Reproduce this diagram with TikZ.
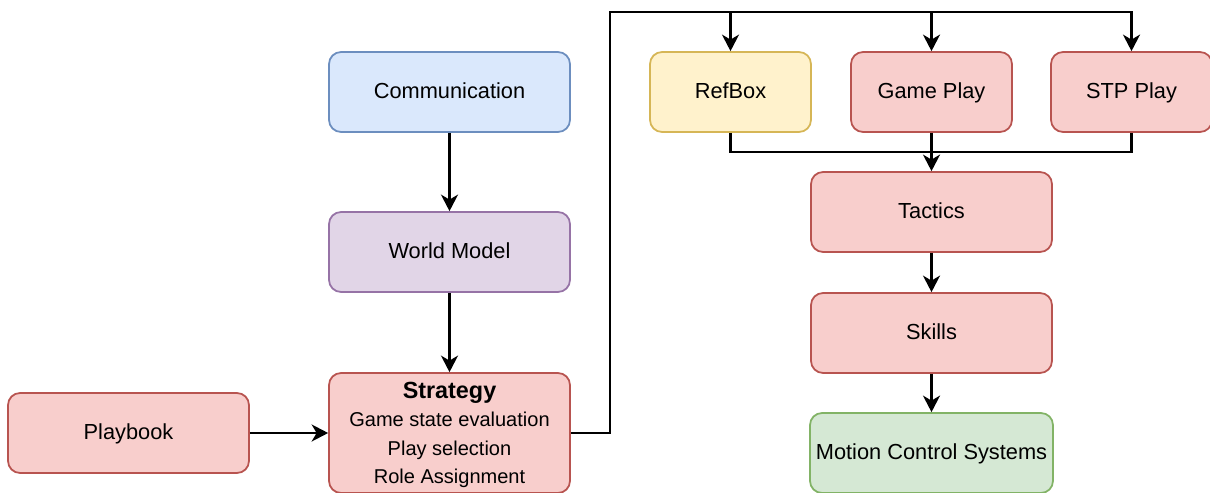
\documentclass[tikz,border=0pt]{standalone}
\usepackage{fontspec}
\setmainfont{Liberation Sans}
\usetikzlibrary{arrows.meta, positioning, calc}
\definecolor{stpBlue}{HTML}{DAE8FC}
\definecolor{stpBlueLine}{HTML}{6C8EBF}
\definecolor{stpPurple}{HTML}{E1D5E7}
\definecolor{stpPurpleLine}{HTML}{9673A6}
\definecolor{stpRed}{HTML}{F8CECC}
\definecolor{stpRedLine}{HTML}{B85450}
\definecolor{stpYellow}{HTML}{FFF2CC}
\definecolor{stpYellowLine}{HTML}{D6B656}
\definecolor{stpGreen}{HTML}{D5E8D4}
\definecolor{stpGreenLine}{HTML}{82B366}

\begin{document}
\begin{tikzpicture}[
        x=0.02cm, y=-0.02cm,
        box/.style={rectangle, rounded corners=0.24cm, draw=stpRedLine, fill=stpRed, line width=1pt, minimum width=4.82cm, minimum height=1.6cm, align=center, text height=0.86em, text depth=0.16em, font=\fontsize{12.4}{15}\selectfont},
        smallbox/.style={box, minimum width=3.22cm},
        arrow/.style={-{Stealth[length=0.33cm, width=0.34cm, inset=0.1cm]}, line width=1.4pt, black},
        wire/.style={line width=1.4pt, black}
    ]
        \useasboundingbox (0,0) rectangle (1210,493);

        % left column
        \node[box, fill=stpBlue, draw=stpBlueLine] (comm) at (449.5,92) {Communication};
        \node[box, fill=stpPurple, draw=stpPurpleLine] (world) at (449.5,252) {World Model};
        \node[box, text height=, text depth=, inner ysep=0pt, minimum height=2.4cm, font=\fontsize{11.4}{16.2}\selectfont] (strategy) at (449.5,433)
            {{\fontsize{13.3}{16}\selectfont\bfseries\rule{0pt}{11.6pt}Strategy}\\Game state evaluation\\Play selection\\Role Assignment};
        \node[box] (playbook) at (128.5,433) {Playbook};

        % plays
        \node[smallbox, fill=stpYellow, draw=stpYellowLine] (refbox) at (730.5,92) {RefBox};
        \node[smallbox] (gameplay) at (931.5,92) {Game Play};
        \node[smallbox] (stpplay) at (1131.5,92) {STP Play};

        % right column
        \node[box] (tactics) at (931.5,212) {Tactics};
        \node[box] (skills) at (931.5,333) {Skills};
        \node[box, fill=stpGreen, draw=stpGreenLine] (motion) at (931.5,453) {Motion Control Systems};

        \coordinate (top) at (610,12);
        \coordinate (join) at (931.5,152);

        \draw[arrow] (comm) -- (world);
        \draw[arrow] (world) -- (strategy);
        \draw[arrow] (playbook) -- (strategy);

        \draw[arrow] (strategy.east) -| (top) -| (stpplay.north);
        \draw[arrow] (refbox.north |- top) -- (refbox.north);
        \draw[arrow] (gameplay.north |- top) -- (gameplay.north);

        \draw[wire] (refbox.south) |- (join) -| (stpplay.south);
        \draw[arrow] (gameplay.south) -- (tactics.north);
        \draw[arrow] (tactics) -- (skills);
        \draw[arrow] (skills) -- (motion);
    \end{tikzpicture}
\end{document}
